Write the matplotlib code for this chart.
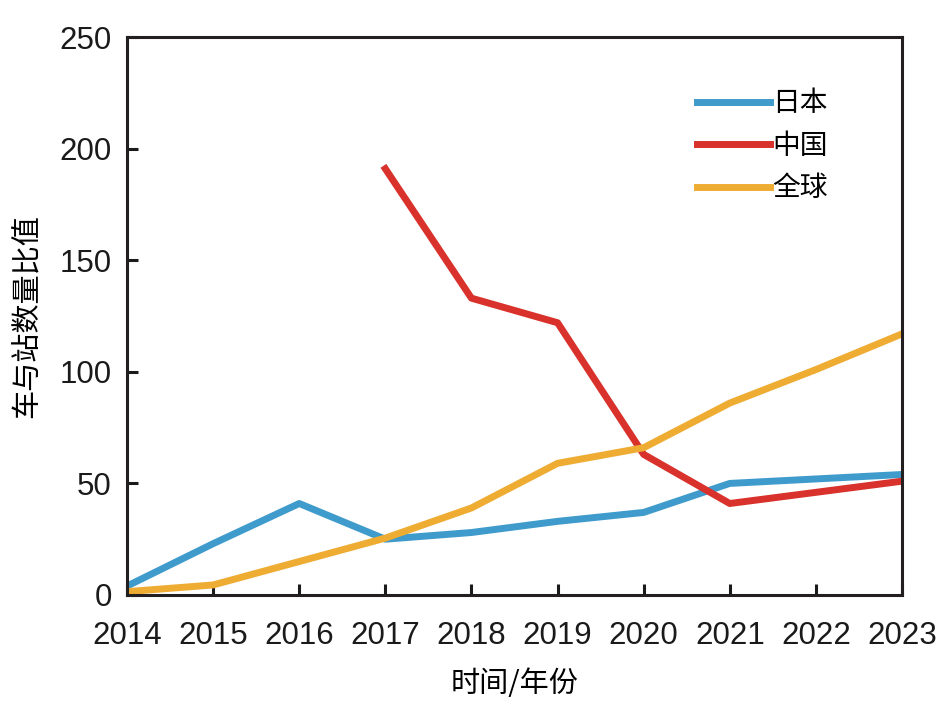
import matplotlib
matplotlib.use("Agg")
import matplotlib.pyplot as plt

plt.rcParams['font.family'] = ['Liberation Sans', 'Noto Sans CJK SC', 'DejaVu Sans']

# 数据
years = [2014, 2015, 2016, 2017, 2018, 2019, 2020, 2021, 2022, 2023]
japan = [4, 23, 41, 25, 28, 33, 37, 50, 52, 54]
china_years = [2017, 2018, 2019, 2020, 2021, 2022, 2023]
china = [191, 133, 122, 63, 41, 46, 51]
world = [1.5, 4.5, 15, 25.5, 39, 59, 66, 86, 101, 117]

c_japan = '#3f9bcc'
c_china = '#d9312b'
c_world = '#eeac33'

fig = plt.figure(figsize=(9.45, 7.13), dpi=100)
ax = fig.add_axes([0.1344, 0.1655, 0.8201, 0.7825])

lw = 5
ax.plot(years, japan, color=c_japan, lw=lw, label='日本')
ax.plot(china_years, china, color=c_china, lw=lw, label='中国')
ax.plot(years, world, color=c_world, lw=lw, label='全球')

ax.set_xlim(2014, 2023)
ax.set_ylim(0, 250)
ax.set_xticks(years)
ax.set_yticks([0, 50, 100, 150, 200, 250])

for s in ax.spines.values():
    s.set_linewidth(2.2)
    s.set_color('#231f20')

ax.tick_params(direction='in', length=8, width=2.2, labelsize=22.5,
               colors='#1a1a1a', top=False, right=False)
ax.tick_params(axis='x', pad=19)
ax.tick_params(axis='y', pad=11)

ax.set_xlabel('时间/年份', fontsize=21, family=['Noto Sans CJK SC'], labelpad=13)
ax.set_ylabel('车与站数量比值', fontsize=21, family=['Noto Sans CJK SC'], labelpad=12)

leg = ax.legend(loc='upper left', bbox_to_anchor=(0.718, 0.933), frameon=False,
                prop={'family': 'Noto Sans CJK SC', 'size': 20}, borderpad=0,
                handlelength=2.6, handletextpad=0.1, labelspacing=0.45)

fig.savefig('out.png', dpi=100)
